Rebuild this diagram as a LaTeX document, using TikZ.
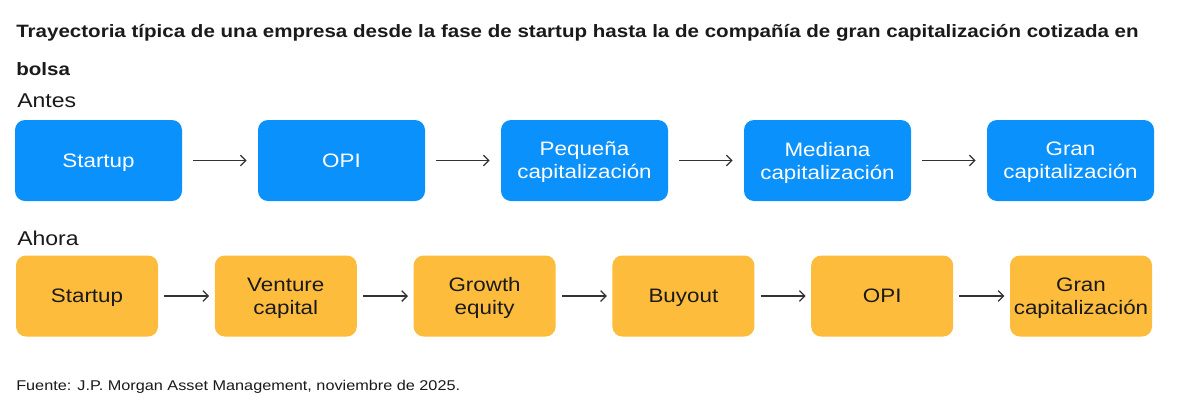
\documentclass[tikz,border=0pt]{standalone}
\usepackage{fontspec}
\setmainfont[FakeStretch=1.15]{Liberation Sans}
\usetikzlibrary{arrows.meta}
\definecolor{jpblue}{HTML}{0A91FB}
\definecolor{jpyellow}{HTML}{FDBC3C}
\definecolor{arrowgray}{HTML}{333333}
\definecolor{textdark}{HTML}{1A1A1A}
\begin{document}
\begin{tikzpicture}[x=0.75pt,y=-0.75pt,
  basebox/.style={rounded corners=7.5pt, minimum height=60.75pt, align=center, inner sep=0pt,
    text depth=0pt, font=\fontsize{14.6}{17.25}\selectfont},
  topbox/.style={basebox, fill=jpblue, text=white, minimum width=125.25pt},
  botbox/.style={basebox, fill=jpyellow, text=textdark, minimum width=106.5pt},
  flow/.style={-{Straight Barb[length=4pt,width=8pt]}, line width=0.95pt, draw=arrowgray},
  topflow/.style={flow, shorten >=8.3pt, shorten <=8.3pt},
  botflow/.style={flow, shorten >=4pt, shorten <=4.5pt},
  txt/.style={anchor=base west, inner sep=0pt, text=textdark}
]
\useasboundingbox (0,0) rectangle (1200,415);
\fill[white] (0,0) rectangle (1200,415);

\node[txt, font=\bfseries\fontsize{13.4}{16}\selectfont] (title1) at (16,37)
  {Trayectoria típica de una empresa desde la fase de startup hasta la de compañía de gran capitalización cotizada en};
\node[txt, font=\bfseries\fontsize{13.4}{16}\selectfont] (title2) at (16,75) {bolsa};

\node[txt, font=\fontsize{15}{18}\selectfont] (antes) at (17,107) {Antes};
\node[txt, font=\fontsize{15}{18}\selectfont] (ahora) at (17,245) {Ahora};

% top row
\node[topbox] (t1) at (98.5,160.5) {Startup};
\node[topbox] (t2) at (341.5,160.5) {OPI};
\node[topbox] (t3) at (584.5,160.5) {Pequeña\\capitalización};
\node[topbox] (t4) at (827.5,160.5) {Mediana\\capitalización};
\node[topbox] (t5) at (1070.5,160.5) {Gran\\capitalización};
\draw[topflow] (t1) -- (t2);
\draw[topflow] (t2) -- (t3);
\draw[topflow] (t3) -- (t4);
\draw[topflow] (t4) -- (t5);

% bottom row
\node[botbox] (b1) at (87,296) {Startup};
\node[botbox] (b2) at (285.8,296) {Venture\\capital};
\node[botbox] (b3) at (484.6,296) {Growth\\equity};
\node[botbox] (b4) at (683.4,296) {Buyout};
\node[botbox] (b5) at (882.2,296) {OPI};
\node[botbox] (b6) at (1081,296) {Gran\\capitalización};
\draw[botflow] (b1) -- (b2);
\draw[botflow] (b2) -- (b3);
\draw[botflow] (b3) -- (b4);
\draw[botflow] (b4) -- (b5);
\draw[botflow] (b5) -- (b6);

\node[txt, font=\fontsize{10.6}{13}\selectfont] (src) at (16,390)
  {Fuente: J.P. Morgan Asset Management, noviembre de 2025.};
\end{tikzpicture}
\end{document}
